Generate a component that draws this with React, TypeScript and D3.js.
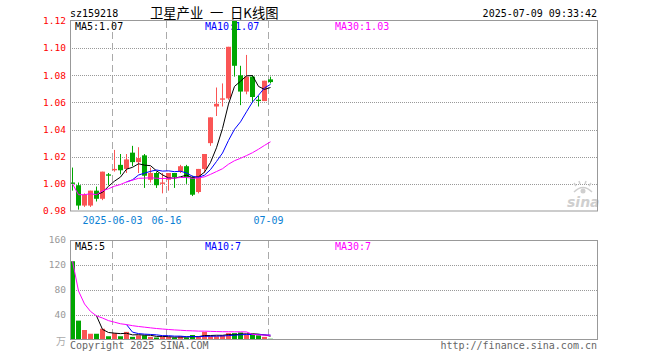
import React from 'react';
import * as d3 from 'd3';

// trading days shown on the chart
const dates = [
  '05-22', '05-23', '05-26', '05-27', '05-28', '05-29', '05-30', '06-03', '06-04', '06-05',
  '06-06', '06-09', '06-10', '06-11', '06-12', '06-13', '06-16', '06-17', '06-18', '06-19',
  '06-20', '06-23', '06-24', '06-25', '06-26', '06-27', '06-30', '07-01', '07-02', '07-03',
  '07-04', '07-07', '07-08', '07-09'
];

const openP = [
  1.001, 0.999, 0.984, 0.984, 0.995, 0.989, 1.007, 1.010, 1.014, 1.011,
  1.023, 1.016, 1.021, 1.003, 1.008, 1.000, 1.003, 1.008, 1.009, 1.013,
  1.005, 0.994, 1.011, 1.030, 1.057, 1.062, 1.063, 1.120, 1.080, 1.068,
  1.079, 1.062, 1.061, 1.077
];
const highP = [
  1.012, 1.001, 0.993, 0.995, 0.998, 1.009, 1.008, 1.025, 1.022, 1.022,
  1.028, 1.027, 1.022, 1.012, 1.009, 1.008, 1.008, 1.008, 1.014, 1.014,
  1.006, 1.011, 1.022, 1.049, 1.071, 1.074, 1.101, 1.120, 1.087, 1.095,
  1.080, 1.065, 1.076, 1.079
];
const lowP = [
  0.995, 0.981, 0.983, 0.983, 0.987, 0.988, 0.999, 1.009, 1.007, 1.008,
  1.013, 1.008, 0.997, 1.001, 0.997, 0.993, 0.995, 0.997, 1.008, 1.000,
  0.991, 0.993, 1.008, 1.028, 1.050, 1.057, 1.062, 1.079, 1.058, 1.066,
  1.060, 1.057, 1.061, 1.074
];
const closeP = [
  1.000, 0.984, 0.992, 0.995, 0.989, 1.009, 1.006, 1.011, 1.010, 1.018,
  1.016, 1.019, 1.006, 1.008, 0.999, 1.001, 1.008, 1.005, 1.013, 1.005,
  0.992, 1.011, 1.022, 1.049, 1.059, 1.063, 1.101, 1.087, 1.068, 1.079,
  1.064, 1.061, 1.076, 1.075
];
// volume, 万
const volume = [
  126, 31, 16, 10, 10, 18, 6, 11, 6, 13,
  5, 7.5, 7.5, 5, 4, 5, 5, 4, 6, 4,
  8, 5, 13, 6, 6, 7.5, 11, 11, 12, 8,
  8, 7.5, 5, 2
];

const priceTicks = [0.98, 1.0, 1.02, 1.04, 1.06, 1.08, 1.1, 1.12];
const volTicks = [40, 80, 120, 160];
const markDates = ['06-03', '06-16', '07-09'];
const markLabels = ['2025-06-03', '06-16', '07-09'];

const RED = '#fa5555';
const GREEN = '#00a600';
const MONO = '"DejaVu Sans Mono", monospace';
const CJK = '"Noto Sans CJK SC", sans-serif';

// moving average, starting once `start` values are in
const movingAvg = (vals: number[], n: number, start: number) =>
  vals.map((_, i) => {
    if (i < start - 1) return null;
    const from = Math.max(0, i - n + 1);
    return d3.mean(vals.slice(from, i + 1)) as number;
  });

export default function App() {
  const left = 70, right = 597;
  const x = d3.scaleBand<string>()
    .domain(dates)
    .range([left, left + 6 * dates.length - 1])
    .paddingInner(1 / 6)
    .paddingOuter(0);
  const bw = x.bandwidth();
  const cx = (i: number) => (x(dates[i]) as number) + bw / 2;

  const yP = d3.scaleLinear().domain([0.98, 1.12]).range([211, 21]);
  const yV = d3.scaleLinear().domain([0, 160]).range([340, 240]);

  const lineP = d3.line<number | null>()
    .defined(d => d !== null)
    .x((_, i) => cx(i))
    .y(d => yP(d as number));
  const lineV = d3.line<number | null>()
    .defined(d => d !== null)
    .x((_, i) => cx(i))
    .y(d => yV(d as number));

  const pMA = [
    { v: movingAvg(closeP, 5, 5), c: '#000' },
    { v: movingAvg(closeP, 10, 10), c: '#0000ff' },
    { v: movingAvg(closeP, 30, 1), c: '#ff00ff' }
  ];
  const vMA = [
    { v: movingAvg(volume, 5, 5), c: '#000' },
    { v: movingAvg(volume, 10, 10), c: '#0000ff' },
    { v: movingAvg(volume, 30, 1), c: '#ff00ff' }
  ];

  const up = (i: number) => closeP[i] >= openP[i];

  return (
    <svg width={660} height={360} style={{ position: 'absolute', left: 0, top: 0, background: '#fff' }}
      fontFamily={MONO} fontSize={10}>
      {/* header */}
      <text x={70} y={17} fill="#000">sz159218</text>
      <g fontFamily={CJK} fontSize={13.3} fill="#000">
        <text x={150} y={18}>卫星产业</text>
        <text x={210} y={18}>一</text>
        <text x={230} y={18}>日K线图</text>
      </g>
      <text x={597} y={17} textAnchor="end" fill="#000">2025-07-09 09:33:42</text>

      {/* grid */}
      {priceTicks.slice(1, -1).map(t => (
        <line key={t} x1={left} x2={right} y1={Math.round(yP(t)) + 0.5} y2={Math.round(yP(t)) + 0.5}
          stroke="#999" strokeDasharray="1,1" />
      ))}
      {volTicks.slice(0, -1).map(t => (
        <line key={t} x1={left} x2={right} y1={Math.round(yV(t)) + 0.5} y2={Math.round(yV(t)) + 0.5}
          stroke="#999" strokeDasharray="1,1" />
      ))}
      {markDates.map(d => (
        <g key={d}>
          <line x1={(x(d) as number) + 0.5} x2={(x(d) as number) + 0.5} y1={21} y2={211}
            stroke="#aaa" strokeDasharray="7,4" />
          <line x1={(x(d) as number) + 0.5} x2={(x(d) as number) + 0.5} y1={241} y2={339}
            stroke="#aaa" strokeDasharray="7,4" />
        </g>
      ))}

      {/* axis labels */}
      {priceTicks.map(t => (
        <text key={t} x={66} y={yP(t)} dy="0.35em" textAnchor="end" fill="#ff0000" fontSize={9.5}>
          {t.toFixed(2)}
        </text>
      ))}
      {markDates.map((d, k) => (
        <text key={d} x={(x(d) as number) + 0.5} y={224} textAnchor="middle" fill="#0b7fd4">
          {markLabels[k]}
        </text>
      ))}
      {volTicks.map(t => (
        <text key={t} x={66} y={yV(t)} dy="0.35em" textAnchor="end" fill="#999" fontSize={9.5}>{t}</text>
      ))}
      <text x={66} y={345} textAnchor="end" fill="#aaa" fontFamily={CJK} fontSize={10}>万</text>

      {/* sina watermark */}
      <g fill="none" stroke="#cfcfcf" strokeWidth={1.5}>
        <path d="M574,192 Q583,183 592,192" />
        <circle cx={583} cy={191} r={2.5} fill="#cfcfcf" stroke="none" />
        <path d="M576,186 L574,183 M580,184 L579,181 M585,184 L586,181 M589,186 L591,183" />
      </g>
      <text x={567} y={207} fill="#cfcfcf" fontFamily='"DejaVu Sans", sans-serif' fontWeight="bold"
        fontStyle="italic" fontSize={14}>sina</text>

      {/* legends (candles are drawn over them) */}
      <text x={75} y={30} fill="#000">MA5:1.07</text>
      <text x={205} y={30} fill="#0000ff">MA10:1.07</text>
      <text x={335} y={30} fill="#ff00ff">MA30:1.03</text>
      <text x={75} y={250} fill="#000">MA5:5</text>
      <text x={205} y={250} fill="#0000ff">MA10:7</text>
      <text x={335} y={250} fill="#ff00ff">MA30:7</text>

      {/* candles */}
      {dates.map((d, i) => {
        const col = up(i) ? RED : GREEN;
        const x0 = x(d) as number;
        const top = yP(Math.max(openP[i], closeP[i]));
        const bot = yP(Math.min(openP[i], closeP[i]));
        return (
          <g key={d}>
            <line x1={Math.floor(cx(i)) + 0.5} x2={Math.floor(cx(i)) + 0.5} y1={yP(highP[i])} y2={yP(lowP[i])}
              stroke={col} />
            <rect x={x0} y={top} width={bw} height={Math.max(1, bot - top)} fill={col} />
          </g>
        );
      })}
      {pMA.map(m => (
        <path key={m.c} d={lineP(m.v) || ''} fill="none" stroke={m.c} strokeWidth={1} />
      ))}

      {/* volume bars */}
      {dates.map((d, i) => (
        <rect key={d} x={x(d)} y={yV(volume[i])} width={bw} height={yV(0) - yV(volume[i])}
          fill={up(i) ? RED : GREEN} />
      ))}
      {vMA.map(m => (
        <path key={m.c} d={lineV(m.v) || ''} fill="none" stroke={m.c} strokeWidth={1} />
      ))}

      {/* frames */}
      <rect x={left + 0.5} y={20.5} width={right - left} height={190.5} fill="none" stroke="#999" />
      <rect x={left + 0.5} y={240.5} width={right - left} height={99} fill="none" stroke="#999" />

      {/* footer */}
      <text x={70} y={349} fill="#666">Copyright 2025 SINA.COM</text>
      <text x={597} y={349} textAnchor="end" fill="#666">http://finance.sina.com.cn</text>
    </svg>
  );
}
